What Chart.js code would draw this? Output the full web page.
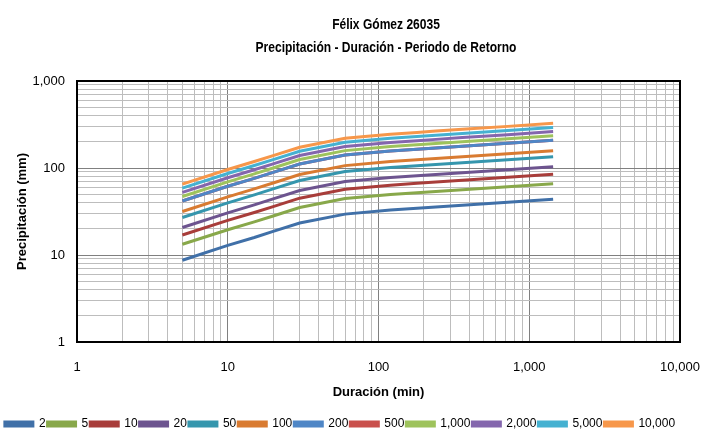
<!DOCTYPE html>
<html lang="es">
<head>
  <meta charset="UTF-8" />
  <title>Félix Gómez 26035</title>
  <style>
    html, body { margin: 0; padding: 0; background: #fff; }
    #wrap { width: 727px; height: 432px; position: relative; }
  </style>
</head>
<body>
  <div id="wrap"><canvas id="pdtChart"></canvas></div>

  <script src="https://cdn.jsdelivr.net/npm/chart.js"></script>
  <script>
    // Duraciones (min)
    const durations = [5, 10, 15, 20, 30, 60, 120, 180, 240, 360, 720, 1440];

    // Periodos de retorno (años)
    const periods = ['2', '5', '10', '20', '50', '100', '200', '500', '1,000', '2,000', '5,000', '10,000'];

    // Precipitación (mm)
    const p2     = [8.7, 12.9, 15.9, 18.7, 23.3, 29.5, 32.9, 34.5, 35.7, 37.4, 40.4, 43.8];
    const p5     = [13.3, 19.5, 24.0, 28.1, 35.1, 44.5, 49.6, 51.9, 53.7, 56.3, 60.9, 66.0];
    const p10    = [17.0, 25.0, 30.8, 36.0, 45.0, 57.0, 63.5, 66.6, 68.9, 72.2, 78.1, 84.6];
    const p20    = [20.7, 30.5, 37.7, 44.1, 55.1, 69.8, 77.7, 81.5, 84.2, 88.3, 95.5, 103.5];
    const p50    = [27.0, 39.8, 49.1, 57.5, 71.8, 91.0, 101.4, 106.2, 109.9, 115.2, 124.6, 135];
    const p100   = [31.6, 46.6, 57.5, 67.3, 84.1, 106.5, 118.7, 124.3, 128.6, 134.8, 145.8, 158];
    // la serie de 200 no se distingue: queda bajo la de 500
    const p200   = [41.8, 61.7, 76.1, 89.0, 111.2, 140.9, 157.0, 164.5, 170.1, 178.3, 192.9, 209];
    const p500   = [41.8, 61.7, 76.1, 89.0, 111.2, 140.9, 157.0, 164.5, 170.1, 178.3, 192.9, 209];
    const p1000  = [47.0, 69.3, 85.5, 100.1, 125.0, 158.4, 176.5, 184.9, 191.3, 200.5, 216.9, 235];
    const p2000  = [52.4, 77.3, 95.4, 111.6, 139.4, 176.6, 196.8, 206.2, 213.3, 223.5, 241.8, 262];
    const p5000  = [58.6, 86.4, 106.7, 124.8, 155.9, 197.5, 220.0, 230.6, 238.5, 249.9, 270.4, 293];
    const p10000 = [65.2, 96.2, 118.7, 138.9, 173.4, 219.7, 244.8, 256.6, 265.4, 278.1, 300.9, 326];

    const seriesValues = [p2, p5, p10, p20, p50, p100, p200, p500, p1000, p2000, p5000, p10000];
    const colors = ['#4070a8', '#88a84a', '#a83d3a', '#6d548f', '#3596ad', '#d97b31',
                    '#4f86c6', '#c9504c', '#9ec35c', '#8466ad', '#45b1d1', '#f7974a'];

    const FONT = "'Liberation Sans', Arial, sans-serif";

    const datasets = periods.map((p, i) => ({
      label: p,
      data: durations.map((d, j) => ({ x: d, y: seriesValues[i][j] })),
      borderColor: colors[i],
      backgroundColor: colors[i],
      borderWidth: 3,
      pointRadius: 0,
      tension: 0
    }));

    function isPow10(v) {
      const l = Math.log10(v);
      return Math.abs(l - Math.round(l)) < 1e-9;
    }

    // todas las líneas 1..9 de cada década
    function fullLogTicks(scale) {
      const ticks = [];
      for (let e = Math.round(Math.log10(scale.min)); e < Math.round(Math.log10(scale.max)); e++) {
        for (let s = 1; s < 10; s++) ticks.push({ value: s * Math.pow(10, e) });
      }
      ticks.push({ value: scale.max });
      scale.ticks = ticks;
    }

    const gridOpts = {
      color: ctx => (ctx.tick && isPow10(ctx.tick.value)) ? '#808080' : '#bdbdbd',
      lineWidth: 1,
      drawTicks: false
    };

    // título en dos líneas, algo estrechado como en el original
    const titlePlugin = {
      id: 'titleText',
      afterDraw(chart) {
        const c = chart.ctx;
        c.save();
        c.fillStyle = '#000';
        c.textAlign = 'center';
        c.textBaseline = 'middle';
        c.font = 'bold 14px ' + FONT;
        c.translate(386, 0);
        c.scale(0.86, 1);
        c.fillText('Félix Gómez 26035', 0, 25);
        c.fillText('Precipitación - Duración - Periodo de Retorno', 0, 48);
        c.restore();
      }
    };

    const framePlugin = {
      id: 'frame',
      afterDatasetsDraw(chart) {
        const a = chart.chartArea;
        const c = chart.ctx;
        c.save();
        c.strokeStyle = '#000';
        c.lineWidth = 2;
        c.strokeRect(a.left, a.top, a.right - a.left, a.bottom - a.top);
        c.restore();
      }
    };

    new Chart(document.getElementById('pdtChart'), {
      type: 'line',
      data: { datasets },
      plugins: [titlePlugin, framePlugin],
      options: {
        responsive: true,
        maintainAspectRatio: false,
        animation: false,
        layout: { padding: { top: 81, right: 47, left: 0, bottom: -8 } },
        scales: {
          x: {
            type: 'logarithmic',
            min: 1,
            max: 10000,
            afterBuildTicks: fullLogTicks,
            afterFit: s => { s.height = 74; },
            grid: gridOpts,
            border: { display: false },
            ticks: {
              autoSkip: false,
              maxRotation: 0,
              padding: 18,
              color: '#000',
              font: { family: FONT, size: 13 },
              callback: v => isPow10(v) ? v.toLocaleString('en-US') : ''
            },
            title: {
              display: true,
              text: 'Duración (min)',
              color: '#000',
              font: { family: FONT, size: 13, weight: 'bold' },
              padding: { top: 0, bottom: 16 }
            }
          },
          y: {
            type: 'logarithmic',
            min: 1,
            max: 1000,
            afterBuildTicks: fullLogTicks,
            afterFit: s => { s.width = 77; },
            grid: gridOpts,
            border: { display: false },
            ticks: {
              autoSkip: false,
              padding: 12,
              color: '#000',
              font: { family: FONT, size: 13 },
              callback: v => isPow10(v) ? v.toLocaleString('en-US') : ''
            },
            title: {
              display: true,
              text: 'Precipitación (mm)',
              color: '#000',
              font: { family: FONT, size: 13, weight: 'bold' },
              padding: { top: 15, bottom: 0 }
            }
          }
        },
        plugins: {
          title: { display: false },
          tooltip: { enabled: false },
          legend: {
            position: 'bottom',
            labels: {
              boxWidth: 28,
              boxHeight: 4,
              padding: 2,
              color: '#000',
              font: { family: FONT, size: 12 }
            }
          }
        }
      }
    });
  </script>
</body>
</html>
